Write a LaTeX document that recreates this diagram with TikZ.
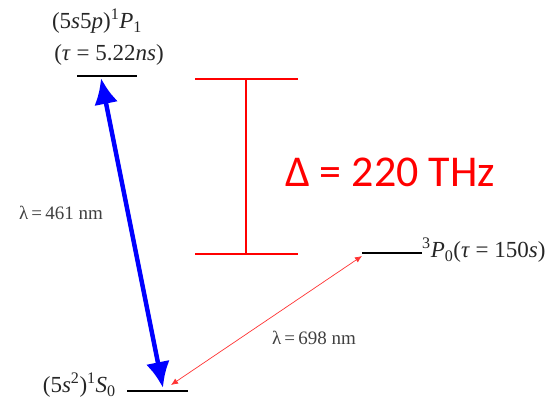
\documentclass[tikz,border=0pt]{standalone}
\usepackage{fontspec}
\setmainfont{Liberation Serif}
\newfontfamily\gapfont{Carlito}
\usepackage{tikz}
\usetikzlibrary{arrows.meta, positioning, calc}
\tikzset{
  level/.style    = {line width=2.6pt, black},
  gapbar/.style   = {line width=1.7pt, red},
  bluearrow/.style = {line width=4.5pt, blue,
                      {Latex[length=26pt,width=24pt]}-{Latex[length=26pt,width=24pt]}},
  redarrow/.style = {line width=0.7pt, red!80!white,
                     {Latex[length=7pt,width=6pt]}-{Latex[length=7pt,width=6pt]}},
  statelbl/.style = {font=\fontsize{23}{25}\selectfont, inner sep=0pt, text=black!85},
  wavelbl/.style  = {font=\fontsize{19}{21}\selectfont, inner sep=0pt, text=black!75},
}

\begin{document}
\begin{tikzpicture}[x=1pt, y=-1pt]
    \useasboundingbox (0,0) rectangle (558,403);

    %% Energy levels
    \coordinate (p1L) at (77,76);   \coordinate (p1R) at (137,76);
    \coordinate (s0L) at (127,391); \coordinate (s0R) at (188,391);
    \coordinate (p0L) at (362,253); \coordinate (p0R) at (422,253);
    \foreach \a/\b in {p1L/p1R, s0L/s0R, p0L/p0R}
      \draw[level] (\a) -- (\b);

    %% State labels
    \node[statelbl] (p1name) at (97,21)
      {(5\textit{s}5\textit{p})\textsuperscript{1}\textit{P}\textsubscript{1}};
    \node[statelbl] (p1life) at (109,55) {(\textit{τ} = 5.22\textit{ns})};
    \node[statelbl, anchor=east] (s0name) at (116,385)
      {(5\textit{s}\textsuperscript{2})\textsuperscript{1}\textit{S}\textsubscript{0}};
    \node[statelbl, anchor=west] (p0name) at (422,250)
      {\textsuperscript{3}\textit{P}\textsubscript{0}(\textit{τ} = 150\textit{s})};

    %% Transitions
    \coordinate (blueLo) at (163,388);
    \coordinate (blueHi) at (101,78);
    \draw[bluearrow] (blueLo) -- (blueHi);
    \node[wavelbl] (lam461) at (61,213) {λ\,=\,461 nm};

    \coordinate (redLo) at (171,385);
    \coordinate (redHi) at (362,256);
    \draw[redarrow] (redLo) -- (redHi);
    \node[wavelbl] (lam698) at (314,338) {λ\,=\,698 nm};

    %% Energy gap bar
    \coordinate (gapT) at (246,79);
    \coordinate (gapB) at (246,254);
    \draw[gapbar] ($(gapT)+(-51,0)$) -- ($(gapT)+(52,0)$);
    \draw[gapbar] ($(gapB)+(-51,0)$) -- ($(gapB)+(52,0)$);
    \draw[gapbar] (gapT) -- (gapB);
    \node[font=\gapfont\fontsize{44}{48}\selectfont, text=red, inner sep=0pt]
      (gap) at (390,172) {Δ = 220 THz};

  \end{tikzpicture}
\end{document}
